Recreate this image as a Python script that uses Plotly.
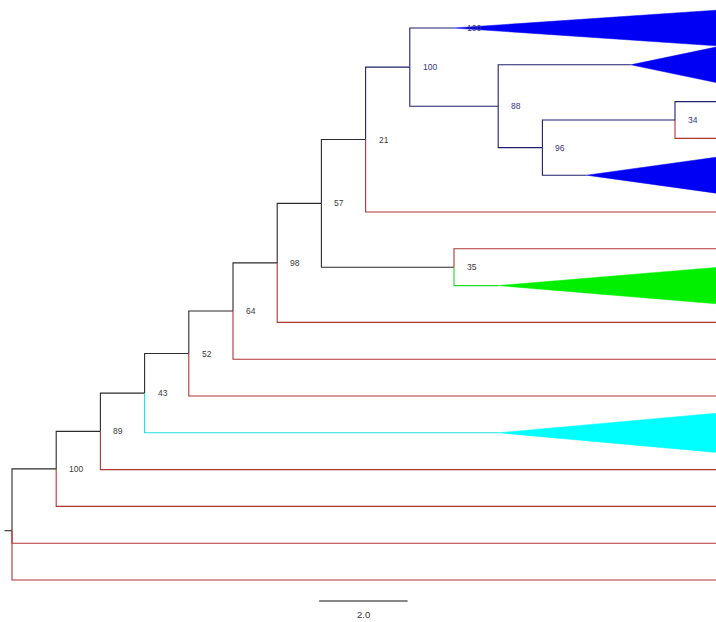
import plotly.graph_objects as go

# ---------------- DATA ----------------
node_ids = ["root", "n100", "out2", "out3", "n89", "t13", "n43", "t12", "n52", "cladeCyan",
            "n64", "t10", "n98", "t9", "n57", "t8", "n21", "n35", "n100b", "t5", "t6",
            "cladeGreen", "cladeA", "n88", "cladeB", "n96", "n34", "cladeC", "t2", "t3"]
node_parent = [None, "root", "root", "root", "n100", "n100", "n89", "n89", "n43", "n43",
               "n52", "n52", "n64", "n64", "n98", "n98", "n57", "n57", "n21", "n21", "n35",
               "n35", "n100b", "n100b", "n88", "n88", "n96", "n96", "n34", "n34"]
branch_len = [0.0, 1.0, 16.4, 16.4, 1.0, 15.4, 1.0, 14.4, 1.0, 8.0,
              1.0, 12.4, 1.0, 11.4, 1.0, 10.4, 1.0, 3.0, 1.0, 8.4, 6.4,
              1.0, 1.0, 2.0, 3.0, 1.0, 3.0, 1.0, 1.4, 1.4]
support = ["", "100", "", "", "89", "", "43", "", "52", "",
           "64", "", "98", "", "57", "", "21", "35", "100", "", "",
           "", "100", "88", "", "96", "34", "", "", ""]
group = ["base", "base", "out", "out", "base", "out", "base", "out", "base", "cyan",
         "base", "out", "base", "out", "base", "out", "base", "base", "clade1", "out", "out",
         "green", "clade1", "clade1", "clade1", "clade1", "clade1", "clade1", "clade1", "out"]
# leaf / collapsed-clade order from top to bottom
tip_order = ["cladeA", "cladeB", "t2", "t3", "cladeC", "t5", "t6", "cladeGreen", "t8",
             "t9", "t10", "cladeCyan", "t12", "t13", "out2", "out3"]
collapsed = ["cladeA", "cladeB", "cladeC", "cladeGreen", "cladeCyan"]
clade_tip_depth = [16.0, 16.0, 16.0, 16.0, 16.0]
clade_half_height = [0.49, 0.5, 0.5, 0.5, 0.54]
scale_value = 2.0
scale_label = "2.0"

# ---------------- STYLE ----------------
line_color = {"base": "#2b2b2b", "out": "#b03535", "clade1": "#1f1f6e",
              "green": "#22dd22", "cyan": "#22e0e0"}
fill_color = {"cladeA": "#0000f4", "cladeB": "#0000f4", "cladeC": "#0000f4",
              "cladeGreen": "#00f000", "cladeCyan": "#00ffff"}
label_color = {"base": "#3a3a3a", "clade1": "#35357f", "out": "#3a3a3a",
               "green": "#3a3a3a", "cyan": "#3a3a3a"}

# ---------------- LAYOUT OF TREE ----------------
idx = {n: i for i, n in enumerate(node_ids)}
children = {n: [] for n in node_ids}
for n, p in zip(node_ids, node_parent):
    if p is not None:
        children[p].append(n)

depth = {}
def set_depth(n, d):
    depth[n] = d
    for c in children[n]:
        set_depth(c, d + branch_len[idx[c]])
set_depth("root", 0.0)

ypos = {n: float(i) for i, n in enumerate(tip_order)}
def set_y(n):
    if n in ypos:
        return ypos[n]
    ys = [set_y(c) for c in children[n]]
    ypos[n] = sum(ys) / len(ys)
    return ypos[n]
set_y("root")

fig = go.Figure()

# branches grouped by color
segs = {}
for n, p in zip(node_ids, node_parent):
    if p is None:
        continue
    g = group[idx[n]]
    xs, ys = segs.setdefault(g, ([], []))
    # vertical part at parent, then horizontal to node
    xs += [depth[p], depth[p], depth[n], None]
    ys += [ypos[p], ypos[n], ypos[n], None]
# root stub
xs, ys = segs.setdefault("base", ([], []))
xs += [-0.17, 0.0, None]
ys += [ypos["root"], ypos["root"], None]

for g, (xs, ys) in segs.items():
    fig.add_trace(go.Scatter(x=xs, y=ys, mode="lines",
                             line=dict(color=line_color[g], width=1.1),
                             hoverinfo="skip", showlegend=False))

# collapsed clade triangles
for c, td, hh in zip(collapsed, clade_tip_depth, clade_half_height):
    x0, y0 = depth[c], ypos[c]
    fig.add_trace(go.Scatter(x=[x0, td, td, x0], y=[y0, y0 - hh, y0 + hh, y0],
                             mode="lines", fill="toself", fillcolor=fill_color[c],
                             line=dict(color=fill_color[c], width=0.5),
                             hoverinfo="skip", showlegend=False))

# support labels
for n, s in zip(node_ids, support):
    if not s:
        continue
    fig.add_annotation(x=depth[n] + 0.25, y=ypos[n], text=s, showarrow=False,
                       xanchor="left", yanchor="middle",
                       font=dict(family="Liberation Sans, Arial", size=8.5,
                                 color=label_color[group[idx[n]]]))

# scale bar
sb_x0 = 6.95
sb_y = 15.57
fig.add_trace(go.Scatter(x=[sb_x0, sb_x0 + scale_value], y=[sb_y, sb_y], mode="lines",
                         line=dict(color="#111111", width=1.1),
                         hoverinfo="skip", showlegend=False))
fig.add_annotation(x=sb_x0 + scale_value / 2, y=sb_y + 0.37, text=scale_label,
                   showarrow=False, xanchor="center", yanchor="middle",
                   font=dict(family="Liberation Sans, Arial", size=9.5, color="#333333"))

px_per_unit = 44.2
px_per_slot = 36.8
fig.update_layout(
    width=716, height=622,
    margin=dict(l=0, r=0, t=0, b=0),
    paper_bgcolor="white", plot_bgcolor="white",
    xaxis=dict(range=[-12 / px_per_unit, 704 / px_per_unit], visible=False, fixedrange=True),
    yaxis=dict(range=[(622 - 28) / px_per_slot, -28 / px_per_slot], visible=False,
               fixedrange=True),
)

fig.write_html("out.html", config={"displayModeBar": False},
               post_script="document.body.style.margin='0';document.body.style.overflow='hidden';")
